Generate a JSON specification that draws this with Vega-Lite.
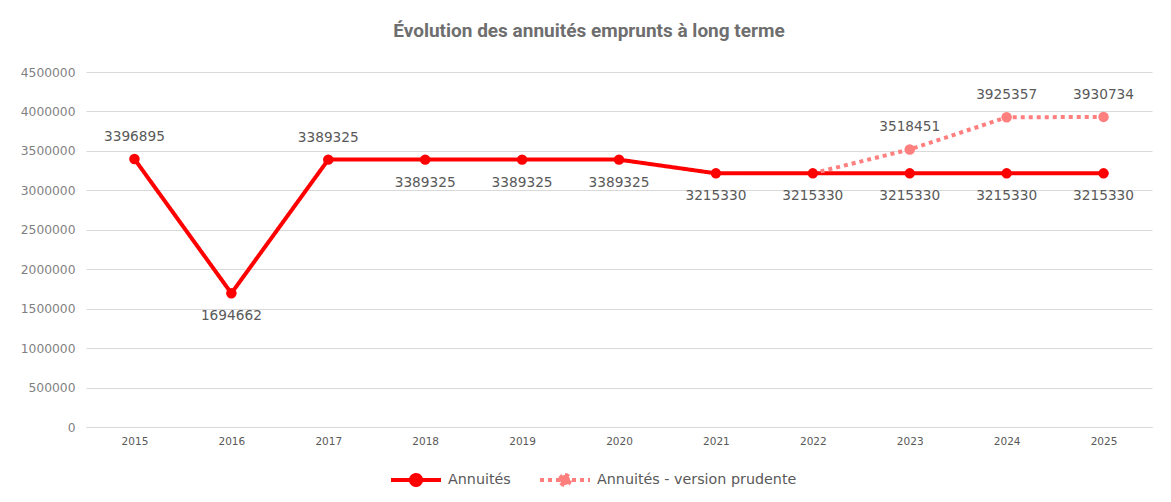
{
  "$schema": "https://vega.github.io/schema/vega-lite/v6.json",
  "width": 1066,
  "height": 355,
  "autosize": {"type": "none"},
  "padding": {"left": 86, "top": 72, "right": 19, "bottom": 75},
  "background": "white",
  "title": {
    "text": "Évolution des annuités emprunts à long terme",
    "font": "Roboto",
    "fontSize": 19,
    "fontWeight": "bold",
    "color": "#6e6e6e",
    "anchor": "middle",
    "frame": "group",
    "dx": -30,
    "offset": 25
  },
  "data": {
    "values": [
      {"year": "2015", "serie": "Annuités", "value": 3396895},
      {"year": "2016", "serie": "Annuités", "value": 1694662},
      {"year": "2017", "serie": "Annuités", "value": 3389325},
      {"year": "2018", "serie": "Annuités", "value": 3389325},
      {"year": "2019", "serie": "Annuités", "value": 3389325},
      {"year": "2020", "serie": "Annuités", "value": 3389325},
      {"year": "2021", "serie": "Annuités", "value": 3215330},
      {"year": "2022", "serie": "Annuités", "value": 3215330},
      {"year": "2023", "serie": "Annuités", "value": 3215330},
      {"year": "2024", "serie": "Annuités", "value": 3215330},
      {"year": "2025", "serie": "Annuités", "value": 3215330},
      {"year": "2022", "serie": "Annuités - version prudente", "value": 3215330},
      {"year": "2023", "serie": "Annuités - version prudente", "value": 3518451},
      {"year": "2024", "serie": "Annuités - version prudente", "value": 3925357},
      {"year": "2025", "serie": "Annuités - version prudente", "value": 3930734}
    ]
  },
  "encoding": {
    "x": {
      "field": "year",
      "type": "ordinal",
      "scale": {"paddingInner": 0, "paddingOuter": 0.5},
      "axis": {
        "title": null,
        "labelAngle": 0,
        "labelFont": "DejaVu Sans",
        "labelFontSize": 10.5,
        "labelColor": "#595959",
        "labelPadding": 9,
        "ticks": false,
        "domainColor": "#d9d9d9",
        "domainWidth": 1
      }
    },
    "y": {
      "field": "value",
      "type": "quantitative",
      "scale": {"domain": [0, 4500000], "nice": false},
      "axis": {
        "title": null,
        "values": [0, 500000, 1000000, 1500000, 2000000, 2500000, 3000000, 3500000, 4000000, 4500000],
        "format": "d",
        "labelFont": "DejaVu Sans",
        "labelFontSize": 12.3,
        "labelColor": "#7f7f7f",
        "labelPadding": 11,
        "ticks": false,
        "domain": false,
        "gridColor": "#d9d9d9",
        "gridWidth": 1
      }
    }
  },
  "layer": [
    {
      "mark": {"type": "line", "strokeWidth": 4, "strokeCap": "butt"},
      "encoding": {
        "color": {
          "field": "serie",
          "type": "nominal",
          "scale": {"domain": ["Annuités", "Annuités - version prudente"], "range": ["#ff0000", "#ff7f7f"]},
          "legend": {
            "title": null,
            "orient": "none",
            "direction": "horizontal",
            "legendX": 303,
            "legendY": 381,
            "symbolType": "M-1,0L1,0M0,-0.2A0.2,0.2 0 1,1 0,0.2A0.2,0.2 0 1,1 0,-0.2Z",
            "symbolSize": 2500,
            "symbolStrokeWidth": 4,
            "labelFont": "DejaVu Sans",
            "labelFontSize": 14.3,
            "labelColor": "#595959",
            "labelOffset": 5,
            "labelLimit": 400,
            "columnPadding": 21
          }
        },
        "strokeDash": {
          "field": "serie",
          "type": "nominal",
          "scale": {"domain": ["Annuités", "Annuités - version prudente"], "range": [[1, 0], [4, 4]]},
          "legend": {
            "title": null,
            "orient": "none",
            "direction": "horizontal",
            "legendX": 303,
            "legendY": 381,
            "symbolType": "M-1,0L1,0M0,-0.2A0.2,0.2 0 1,1 0,0.2A0.2,0.2 0 1,1 0,-0.2Z",
            "symbolSize": 2500,
            "symbolStrokeWidth": 4,
            "labelFont": "DejaVu Sans",
            "labelFontSize": 14.3,
            "labelColor": "#595959",
            "labelOffset": 5,
            "labelLimit": 400,
            "columnPadding": 21
          }
        }
      }
    },
    {
      "transform": [{"filter": "!(datum.serie == 'Annuités - version prudente' && datum.year == '2022')"}],
      "mark": {"type": "point", "filled": true, "size": 110, "opacity": 1},
      "encoding": {
        "color": {"field": "serie", "type": "nominal"}
      }
    },
    {
      "transform": [{"filter": "datum.serie == 'Annuités' && (datum.year == '2015' || datum.year == '2017')"}],
      "mark": {"type": "text", "dy": -22, "font": "DejaVu Sans", "fontSize": 13.7, "color": "#595959"},
      "encoding": {"text": {"field": "value", "type": "quantitative", "format": "d"}}
    },
    {
      "transform": [{"filter": "datum.serie == 'Annuités' && datum.year != '2015' && datum.year != '2017'"}],
      "mark": {"type": "text", "dy": 23, "font": "DejaVu Sans", "fontSize": 13.7, "color": "#595959"},
      "encoding": {"text": {"field": "value", "type": "quantitative", "format": "d"}}
    },
    {
      "transform": [{"filter": "datum.serie == 'Annuités - version prudente' && datum.year != '2022'"}],
      "mark": {"type": "text", "dy": -22, "font": "DejaVu Sans", "fontSize": 13.7, "color": "#595959"},
      "encoding": {"text": {"field": "value", "type": "quantitative", "format": "d"}}
    }
  ],
  "config": {"view": {"stroke": null}}
}
